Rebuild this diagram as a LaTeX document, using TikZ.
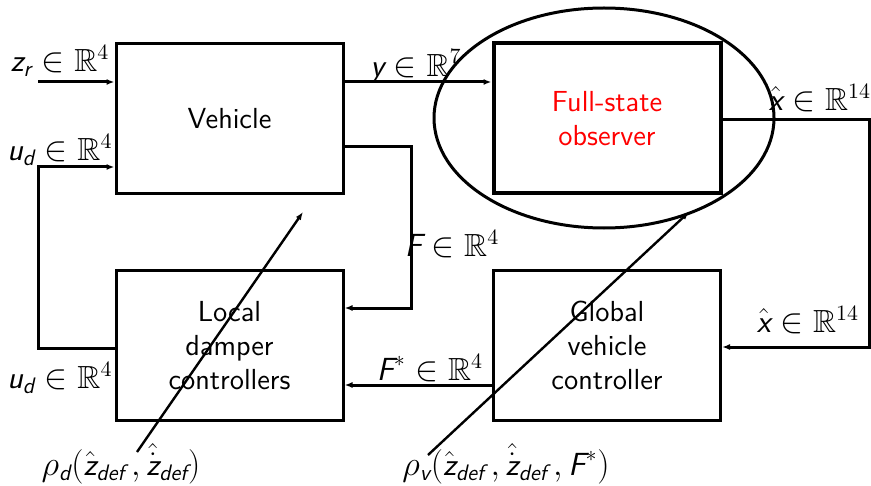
\documentclass[tikz,border=0pt]{standalone}
\usepackage{amsmath,amssymb}
\usetikzlibrary{arrows.meta}
\newcommand{\sv}[1]{\textsf{\itshape #1}}
\begin{document}
\begin{tikzpicture}[x=0.5pt,y=-0.5pt,
  blk/.style={draw,line width=1.5pt,minimum width=113.5pt,minimum height=75pt,align=center,font=\sffamily\fontsize{14.5}{17}\selectfont},
  lbl/.style={font=\sffamily\fontsize{16}{18}\selectfont,inner sep=1pt},
  conn/.style={line width=1.5pt,-{Latex[length=4pt,width=3pt]}},
  gain/.style={line width=1.2pt,-{Latex[length=4pt,width=3pt]}}]
\useasboundingbox (0,0) rectangle (871,486);
\node[blk] (veh) at (229.5,118.5) {Vehicle};
\node[blk,line width=2pt,text=red] (obs) at (607,118.5) {Full-state\\observer};
\node[blk] (ldc) at (229.5,345.5) {Local\\damper\\controllers};
\node[blk] (gvc) at (607,345.5) {Global\\vehicle\\controller};
\draw[line width=1.5pt] (604,118) ellipse [x radius=170,y radius=110];
\coordinate (zin) at (38,82);
\draw[conn] (zin) -- (veh.west |- zin);
\node[lbl] (zl) at (60,61) {$\sv{z}_{\sv{r}}\in\mathbb{R}^4$};
\coordinate (ua) at (38,167);
\coordinate (ub) at (38,348);
\draw[conn] (ldc.west |- ub) -- (ub) -- (ua) -- (veh.west |- ua);
\node[lbl] (ul1) at (60,150) {$\sv{u}_{\sv{d}}\in\mathbb{R}^4$};
\node[lbl] (ul2) at (60,378) {$\sv{u}_{\sv{d}}\in\mathbb{R}^4$};
\coordinate (yy) at (343,82);
\draw[conn] (veh.east |- yy) -- (obs.west |- yy);
\node[lbl] (yl) at (416,66) {$\sv{y}\in\mathbb{R}^7$};
\coordinate (xa) at (869,120);
\coordinate (xb) at (869,347);
\draw[conn] (obs.east |- xa) -- (xa) -- (xb) -- (gvc.east |- xb);
\node[lbl] (xl1) at (820,98) {$\hat{\sv{x}}\in\mathbb{R}^{14}$};
\node[lbl] (xl2) at (808,320) {$\hat{\sv{x}}\in\mathbb{R}^{14}$};
\coordinate (fa) at (411,147);
\coordinate (fb) at (411,308);
\draw[conn] (veh.east |- fa) -- (fa) -- (fb) -- (ldc.east |- fb);
\node[lbl] (fl) at (452,244) {$\sv{F}\in\mathbb{R}^4$};
\coordinate (fs) at (494,385);
\draw[conn] (fs) -- (ldc.east |- fs);
\node[lbl] (fsl) at (430,368) {$\sv{F}^*\in\mathbb{R}^4$};
\node[lbl] (rd) at (121,464) {$\rho_{\sv{d}}(\hat{\sv{z}}_{\sv{def}}\,,\hat{\dot{\sv{z}}}_{\sv{def}})$};
\node[lbl] (rv) at (506,464) {$\rho_{\sv{v}}(\hat{\sv{z}}_{\sv{def}}\,,\hat{\dot{\sv{z}}}_{\sv{def}}\,,\sv{F}^*)$};
\coordinate (g1a) at (137,452);
\coordinate (g1b) at (303,212);
\coordinate (g2a) at (428,455);
\coordinate (g2b) at (689,212);
\draw[gain] (g1a) -- (g1b);
\draw[gain] (g2a) -- (g2b);
\end{tikzpicture}
\end{document}
